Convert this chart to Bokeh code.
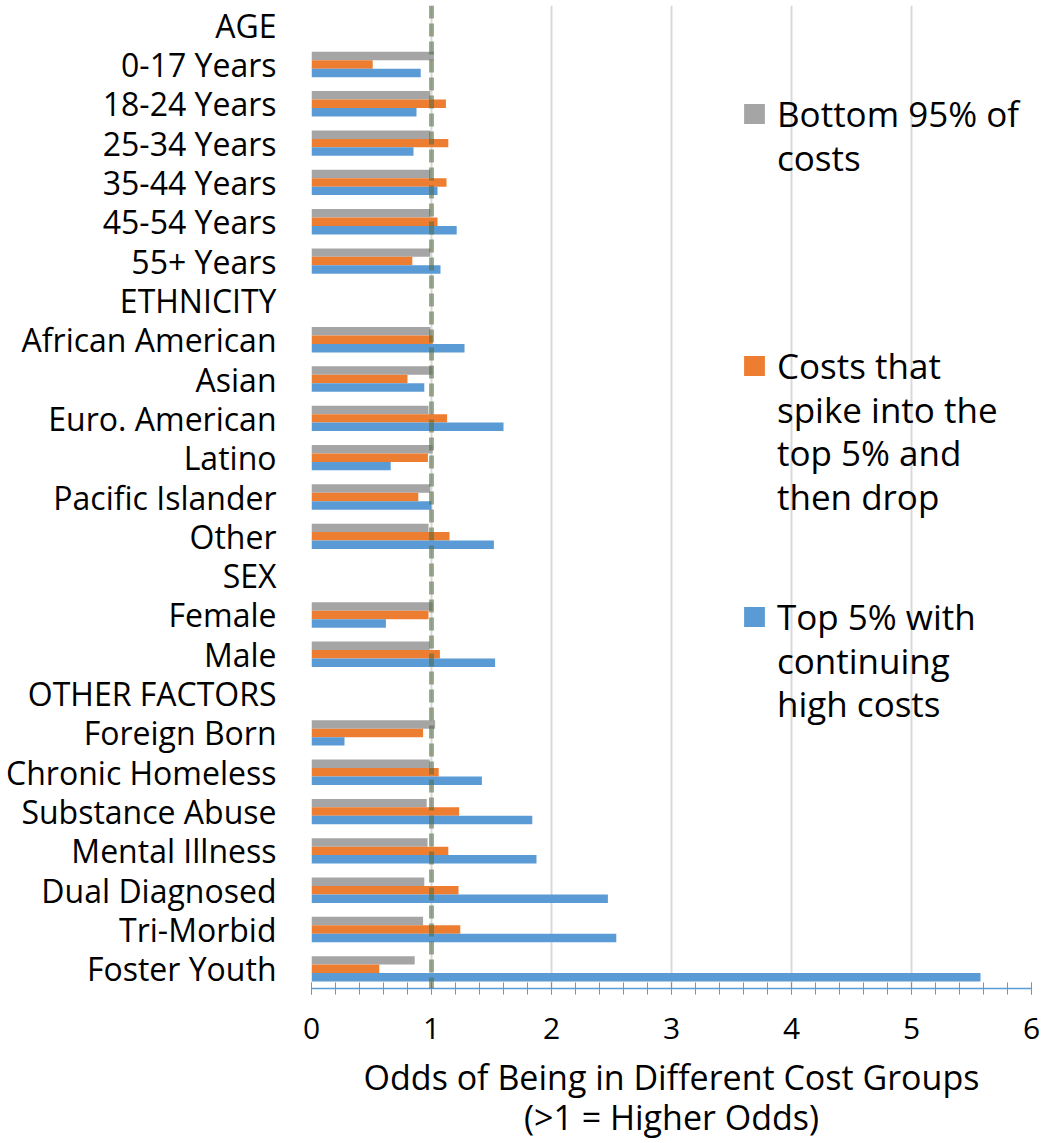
from bokeh.plotting import figure
from bokeh.models import (FactorRange, Range1d, Span, Legend, LegendItem,
                          SingleIntervalTicker, ColumnDataSource)
from bokeh.transform import dodge
from bokeh.embed import file_html
from bokeh.resources import INLINE

# ---- data ----
all_categories = ["AGE", "0-17 Years", "18-24 Years", "25-34 Years", "35-44 Years",
                  "45-54 Years", "55+ Years", "ETHNICITY", "African American", "Asian",
                  "Euro. American", "Latino", "Pacific Islander", "Other", "SEX",
                  "Female", "Male", "OTHER FACTORS", "Foreign Born", "Chronic Homeless",
                  "Substance Abuse", "Mental Illness", "Dual Diagnosed", "Tri-Morbid",
                  "Foster Youth"]

data_categories = ["0-17 Years", "18-24 Years", "25-34 Years", "35-44 Years",
                   "45-54 Years", "55+ Years", "African American", "Asian",
                   "Euro. American", "Latino", "Pacific Islander", "Other",
                   "Female", "Male", "Foreign Born", "Chronic Homeless",
                   "Substance Abuse", "Mental Illness", "Dual Diagnosed", "Tri-Morbid",
                   "Foster Youth"]

bottom95 = [1.02, 0.99, 0.99, 0.99, 0.99, 0.99,
            0.99, 1.01, 0.975, 1.01, 0.99, 0.975,
            1.01, 0.985,
            1.03, 0.985, 0.96, 0.967, 0.94, 0.93, 0.86]
spike = [0.51, 1.12, 1.14, 1.125, 1.05, 0.84,
         1.01, 0.80, 1.13, 0.97, 0.89, 1.15,
         0.975, 1.07,
         0.93, 1.06, 1.23, 1.14, 1.225, 1.24, 0.565]
top5 = [0.91, 0.875, 0.85, 1.05, 1.21, 1.075,
        1.275, 0.94, 1.60, 0.66, 1.00, 1.52,
        0.62, 1.53,
        0.275, 1.42, 1.84, 1.875, 2.47, 2.54, 5.575]

# legend label lines for each series
series_lines = [["Bottom 95% of", "costs"],
                ["Costs that", "spike into the", "top 5% and", "then drop"],
                ["Top 5% with", "continuing", "high costs"]]
x_ticks_interval = 1

source = ColumnDataSource(dict(cat=data_categories, bottom95=bottom95,
                               spike=spike, top5=top5))

FONT = "Open Sans"
GRAY = "#a5a5a5"
ORANGE = "#ed7d31"
BLUE = "#5b9bd5"

FRAME_BOTTOM = 993   # screen y of the x axis line
p = figure(width=1040, height=1143,
           y_range=FactorRange(factors=list(reversed(all_categories)), range_padding=0),
           x_range=Range1d(0, 6),
           output_backend="svg", toolbar_location=None,
           min_border_left=311, min_border_right=9, min_border_top=5,
           min_border_bottom=1143 - FRAME_BOTTOM)

p.outline_line_color = None
p.background_fill_color = "white"
p.border_fill_color = "white"

bh = 0.215
r_gray = p.hbar(y=dodge("cat", bh, range=p.y_range), left=0, right="bottom95",
                height=bh, source=source, fill_color=GRAY, line_color=None)
r_orange = p.hbar(y=dodge("cat", 0, range=p.y_range), left=0, right="spike",
                  height=bh, source=source, fill_color=ORANGE, line_color=None)
r_blue = p.hbar(y=dodge("cat", -bh, range=p.y_range), left=0, right="top5",
                height=bh, source=source, fill_color=BLUE, line_color=None)

# reference line at odds = 1
p.add_layout(Span(location=1, dimension="height", line_color="#4f6a3c",
                  line_alpha=0.55, line_width=5, line_dash="13 5"))

# x axis
ticker = SingleIntervalTicker(interval=x_ticks_interval, num_minor_ticks=5)
xa = p.xaxis[0]
xa.ticker = ticker
xa.axis_line_color = BLUE
xa.axis_line_width = 1.5
xa.major_tick_line_color = BLUE
xa.minor_tick_line_color = BLUE
xa.major_tick_in = 6
xa.major_tick_out = 6
xa.minor_tick_in = 6
xa.minor_tick_out = 6
xa.major_label_text_font = FONT
xa.major_label_text_font_size = "30px"
xa.major_label_text_color = "black"
xa.major_label_standoff = 23
xa.axis_label = "Odds of Being in Different Cost Groups\n(>1 = Higher Odds)"
xa.axis_label_text_font = FONT
xa.axis_label_text_font_size = "34px"
xa.axis_label_text_font_style = "normal"
xa.axis_label_text_color = "black"
xa.axis_label_text_line_height = 0.89
xa.axis_label_standoff = 12

p.xgrid.ticker = ticker
p.xgrid.grid_line_color = "#d9d9d9"
p.xgrid.grid_line_width = 2
p.ygrid.grid_line_color = None

# y axis
ya = p.yaxis[0]
ya.axis_line_color = None
ya.major_tick_line_color = None
ya.minor_tick_line_color = None
ya.major_label_text_font = FONT
ya.major_label_text_font_size = "32px"
ya.major_label_text_color = "black"
ya.major_label_standoff = 29

# legends: one small legend per text line so that line spacing and the
# swatch-on-first-line arrangement match the original
first_line_y = [117, 369, 620]   # screen y of each entry's first line
line_pitch = 43.5
item_half = 25.35                # half item height + text offset at 35px
for lines, rend, y0 in zip(series_lines, [r_gray, r_orange, r_blue], first_line_y):
    for k, txt in enumerate(lines):
        item = LegendItem(label=txt, renderers=[rend] if k == 0 else [])
        loc_y = FRAME_BOTTOM - (y0 + k * line_pitch) - item_half
        leg = Legend(items=[item], location=(430, loc_y),
                     background_fill_alpha=0, border_line_color=None, padding=0,
                     margin=0, spacing=0, glyph_width=26, glyph_height=25,
                     label_height=20, label_standoff=10,
                     label_text_font=FONT, label_text_font_size="35px",
                     label_text_color="black")
        p.add_layout(leg, "center")

open("out.html", "w").write(file_html(p, INLINE))
